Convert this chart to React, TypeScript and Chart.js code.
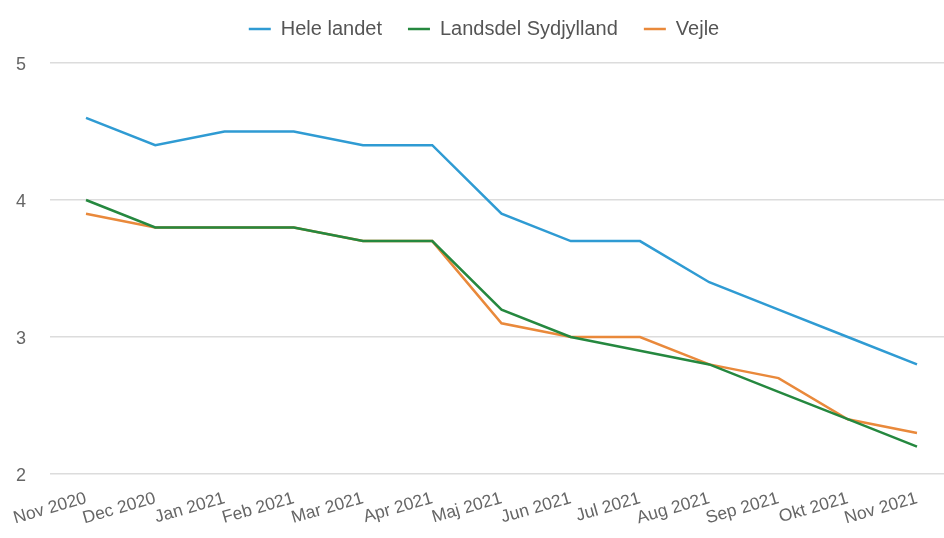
import React, { useEffect, useRef } from "react";
import { Chart, registerables } from "chart.js";

Chart.register(...registerables);

const categories = [
  "Nov 2020", "Dec 2020", "Jan 2021", "Feb 2021", "Mar 2021", "Apr 2021", "Maj 2021",
  "Jun 2021", "Jul 2021", "Aug 2021", "Sep 2021", "Okt 2021", "Nov 2021",
];
const heleLandet = [4.6, 4.4, 4.5, 4.5, 4.4, 4.4, 3.9, 3.7, 3.7, 3.4, 3.2, 3.0, 2.8];
const sydjylland = [4.0, 3.8, 3.8, 3.8, 3.7, 3.7, 3.2, 3.0, 2.9, 2.8, 2.6, 2.4, 2.2];
const vejle = [3.9, 3.8, 3.8, 3.8, 3.7, 3.7, 3.1, 3.0, 3.0, 2.8, 2.7, 2.4, 2.3];
const yTicks = [2, 3, 4, 5];

const FONT = "'Liberation Sans', Arial, sans-serif";

const toPoints = (arr: number[]) => arr.map((y, i) => ({ x: i, y }));

const LEGEND_PAD = 26;
const LAYOUT_TOP = 19 - LEGEND_PAD;
const PLOT_TOP = 63;
const LEGEND_SHIFT_X = 12;

const legendHeightPlugin = {
  id: "legendHeight",
  afterInit(chart: any) {
    const lg = chart.legend;
    if (!lg) return;
    const origFit = lg.fit.bind(lg);
    lg.fit = function () {
      origFit();
      this.height = PLOT_TOP - LAYOUT_TOP;
    };
    const origDraw = lg.draw.bind(lg);
    lg.draw = function () {
      const ctx = chart.ctx;
      ctx.save();
      ctx.translate(LEGEND_SHIFT_X, 0);
      origDraw();
      ctx.restore();
    };
  },
};

export default function App() {
  const ref = useRef<HTMLCanvasElement | null>(null);
  useEffect(() => {
    if (!ref.current) return;
    const mk = (label: string, data: number[], color: string) => ({
      label,
      data: toPoints(data),
      borderColor: color,
      backgroundColor: color,
      borderWidth: 2.5,
      pointRadius: 0,
      tension: 0,
    });
    const chart = new Chart(ref.current, {
      type: "line",
      data: {
        datasets: [
          mk("Hele landet", heleLandet, "#2f9bd3"),
          mk("Landsdel Sydjylland", sydjylland, "#25883f"),
          mk("Vejle", vejle, "#e9893b"),
        ],
      },
      plugins: [legendHeightPlugin],
      options: {
        animation: false,
        responsive: false,
        maintainAspectRatio: false,
        layout: { padding: { top: LAYOUT_TOP, right: 0, bottom: 0, left: 0 } },
        plugins: {
          tooltip: { enabled: false },
          legend: {
            position: "top",
            labels: {
              usePointStyle: true,
              pointStyle: "line",
              pointStyleWidth: 22,
              boxHeight: 20,
              padding: LEGEND_PAD,
              color: "#555",
              font: { family: FONT, size: 20 },
            },
          },
        },
        scales: {
          x: {
            type: "linear",
            min: -0.52,
            max: 12.39,
            afterBuildTicks: (scale: any) => {
              scale.ticks = categories.map((_, i) => ({ value: i }));
            },
            ticks: {
              autoSkip: false,
              maxRotation: 16,
              minRotation: 16,
              color: "#666",
              font: { family: FONT, size: 17.5 },
              padding: 6,
              callback: (v: any) => categories[Math.round(Number(v))] ?? "",
            },
            grid: { display: false },
            border: { display: false },
            afterFit: (scale: any) => {
              scale.height = 64;
            },
          },
          y: {
            min: 2,
            max: 5,
            afterBuildTicks: (scale: any) => {
              scale.ticks = yTicks.map((v) => ({ value: v }));
            },
            ticks: {
              color: "#666",
              font: { family: FONT, size: 18 },
              padding: 24,
              labelOffset: 2,
            },
            grid: { color: "#dcdcdc", lineWidth: 1.5, drawTicks: false },
            border: { display: false },
            afterFit: (scale: any) => {
              scale.width = 50;
            },
          },
        },
      },
    });
    return () => chart.destroy();
  }, []);
  return (
    <div style={{ position: "absolute", left: 0, top: 0, width: 944, height: 538, background: "#fff" }}>
      <canvas ref={ref} width={944} height={538} style={{ display: "block" }} />
    </div>
  );
}
